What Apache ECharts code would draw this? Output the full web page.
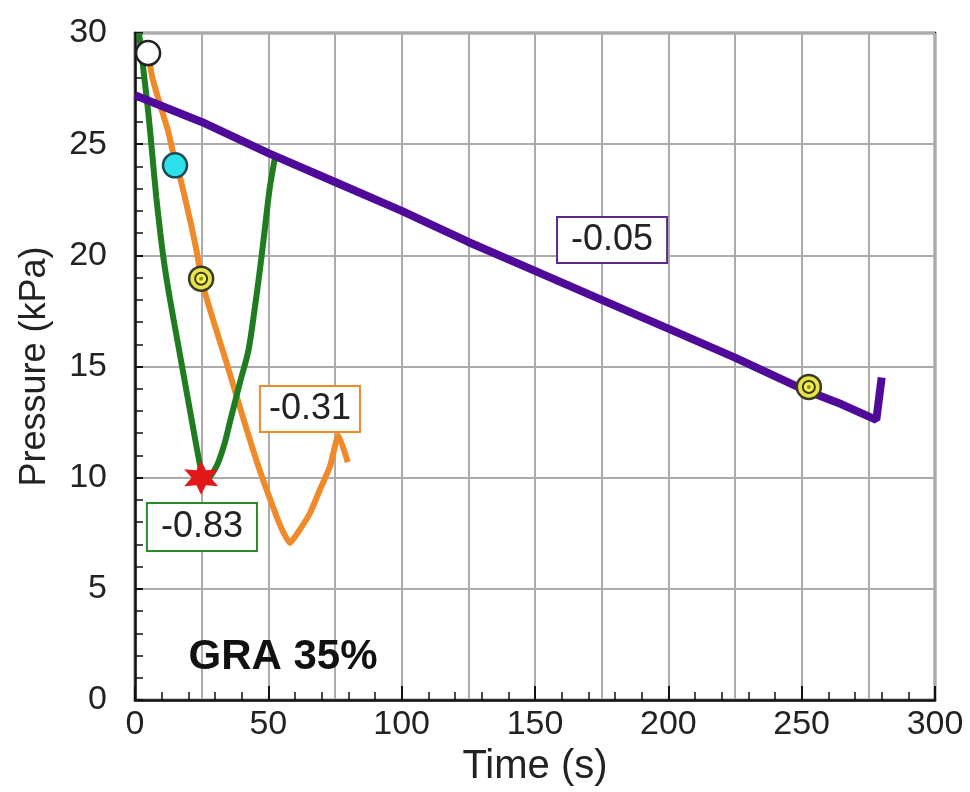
<!DOCTYPE html>
<html>
<head>
<meta charset="utf-8">
<script src="https://cdn.jsdelivr.net/npm/echarts@6/dist/echarts.min.js"></script>
<style>
html,body{margin:0;padding:0;background:#fff;}
#chart{width:970px;height:792px;}
</style>
</head>
<body>
<div id="chart"></div>
<script>
// ---- data (time in s, pressure in kPa) ----
const xRange = [0, 300];
const yRange = [0, 30];

const greenT = [1.5, 3.1, 5, 6.5, 8, 9.5, 11, 13, 16, 19, 22, 24, 25.5, 27, 28.5, 30.9, 33.5, 35.6, 39.4, 42.5, 45, 47, 48.5, 50.5, 52.5];
const greenP = [30.0, 28.4, 26.4, 24.5, 22.6, 21.0, 19.6, 18.1, 16.1, 14.1, 12.1, 10.8, 10.0, 9.9, 10.1, 10.6, 11.5, 12.5, 14.3, 15.7, 17.7, 19.5, 21.0, 23.0, 24.4];

const orangeT = [5, 6.5, 8.6, 12.4, 14.3, 16.9, 18.7, 21, 23.1, 24.8, 28, 34, 40, 46, 52, 55, 58.1, 62, 65.6, 69.5, 73.1, 76.3, 79.8];
const orangeP = [29.0, 28.0, 27.1, 25.6, 24.6, 23.5, 22.6, 21.4, 20.2, 19.0, 17.6, 15.3, 12.9, 10.6, 8.6, 7.7, 7.06, 7.7, 8.4, 9.5, 10.5, 11.9, 10.7];

const purpleT = [0, 25, 50, 75, 100, 125, 150, 175, 200, 225, 250, 265, 278, 280];
const purpleP = [27.2, 26.0, 24.6, 23.3, 22.0, 20.6, 19.3, 18.0, 16.7, 15.4, 14.0, 13.3, 12.6, 14.5];

const whitePt = [4.9, 29.1];
const cyanPt = [15, 24.05];
const targetT = [24.8, 252.7];
const targetP = [18.95, 14.08];
const starPt = [24.8, 10.0];

const annoT = [178.9, 65.6, 25.1];
const annoP = [20.69, 13.09, 7.78];
const annoText = ['-0.05', '-0.31', '-0.83'];
const titleNote = {t: 55.5, p: 1.9, text: 'GRA 35%'};

// ---- build ----
const zip = (a, b) => a.map((v, i) => [v, b[i]]);
const FONT = '"Liberation Sans", Arial, sans-serif';
const annoColors = ['#5a2a8a', '#f0892a', '#2a8a2a'];
const annoPad = [[2, 13], [2, 8], [3, 13]];

const starPath = 'path://M50,0 L62,28 L93,25 L74,50 L93,75 L62,72 L50,100 L38,72 L7,75 L26,50 L7,25 L38,28 Z';

const chart = echarts.init(document.getElementById('chart'), null, {renderer: 'canvas'});

const option = {
  animation: false,
  backgroundColor: '#fff',
  grid: {
    left: 135, right: 35, top: 33, bottom: 92,
    show: true, borderColor: '#111', borderWidth: 2.5, backgroundColor: '#fff'
  },
  xAxis: [
    {
      type: 'value', min: xRange[0], max: xRange[1], interval: 50,
      axisLine: {show: true, lineStyle: {color: '#111', width: 2.5}},
      axisTick: {show: true, inside: true, length: 14, lineStyle: {color: '#111', width: 2}},
      minorTick: {show: true, splitNumber: 5, length: 8, lineStyle: {color: '#111', width: 1.5}},
      axisLabel: {fontSize: 34, color: '#222', fontFamily: FONT, margin: 8},
      splitLine: {show: false},
      name: 'Time (s)', nameLocation: 'middle', nameGap: 42,
      nameTextStyle: {fontSize: 40, color: '#222', fontFamily: FONT}
    },
    {
      type: 'value', min: xRange[0], max: xRange[1], interval: 25,
      axisLine: {show: false}, axisTick: {show: false}, axisLabel: {show: false},
      splitLine: {show: true, lineStyle: {color: '#ababab', width: 2}}
    }
  ],
  yAxis: {
    type: 'value', min: yRange[0], max: yRange[1], interval: 5,
    axisLine: {show: true, lineStyle: {color: '#111', width: 2.5}},
    axisTick: {show: true, inside: true, length: 8, lineStyle: {color: '#111', width: 2}},
    minorTick: {show: true, splitNumber: 5, length: 8, lineStyle: {color: '#111', width: 1.5}},
    axisLabel: {fontSize: 34, color: '#222', fontFamily: FONT, margin: 28},
    splitLine: {show: true, lineStyle: {color: '#ababab', width: 2}},
    name: 'Pressure (kPa)', nameLocation: 'middle', nameGap: 82,
    nameTextStyle: {fontSize: 36, color: '#222', fontFamily: FONT}
  },
  series: [
    {
      type: 'line', name: 'orange', data: zip(orangeT, orangeP), showSymbol: false, symbol: 'none',
      smooth: 0.15, lineStyle: {color: '#f0892a', width: 6}, z: 3
    },
    {
      type: 'line', name: 'green', data: zip(greenT, greenP), showSymbol: false, symbol: 'none',
      smooth: 0.3, lineStyle: {color: '#1f7d1f', width: 6}, z: 4
    },
    {
      type: 'line', name: 'purple', data: zip(purpleT, purpleP), showSymbol: false, symbol: 'none',
      lineStyle: {color: '#4f0a9a', width: 8}, z: 5
    },
    {
      type: 'scatter', data: [whitePt], symbol: 'circle', symbolSize: 24,
      itemStyle: {color: '#fff', borderColor: '#222', borderWidth: 2.5, opacity: 1}, z: 6
    },
    {
      type: 'scatter', data: [cyanPt], symbol: 'circle', symbolSize: 24,
      itemStyle: {color: '#2ee0ea', borderColor: '#1a4a50', borderWidth: 2.5, opacity: 1}, z: 6
    },
    {
      type: 'scatter', data: zip(targetT, targetP), symbol: 'circle', symbolSize: 24,
      itemStyle: {color: '#e6e44a', borderColor: '#3a3a22', borderWidth: 2.5, opacity: 1}, z: 6
    },
    {
      type: 'scatter', data: zip(targetT, targetP), symbol: 'circle', symbolSize: 12,
      itemStyle: {color: '#f6f24a', borderColor: '#3a3a22', borderWidth: 2, opacity: 1}, z: 7
    },
    {
      type: 'scatter', data: zip(targetT, targetP), symbol: 'circle', symbolSize: 4,
      itemStyle: {color: '#8a8a30', opacity: 1}, z: 7
    },
    {
      type: 'scatter', data: [starPt], symbol: starPath, symbolSize: 34,
      itemStyle: {color: '#e3161a', opacity: 1}, z: 7
    },
    {
      type: 'scatter', symbolSize: 0, z: 8,
      data: annoT.map((t, i) => ({
        value: [t, annoP[i]],
        label: {
          show: true, position: 'inside', formatter: annoText[i],
          fontSize: 36, fontFamily: FONT, color: '#222',
          backgroundColor: '#fff', borderColor: annoColors[i], borderWidth: 2,
          padding: annoPad[i], lineHeight: 40
        }
      })),
      itemStyle: {opacity: 1}
    },
    {
      type: 'scatter', symbolSize: 0, z: 8,
      itemStyle: {opacity: 1},
      data: [{
        value: [titleNote.t, titleNote.p],
        label: {
          show: true, position: 'inside', formatter: titleNote.text,
          fontSize: 42, fontWeight: 'bold', fontFamily: FONT, color: '#111'
        }
      }]
    }
  ]
};
chart.setOption(option);
</script>
</body>
</html>
